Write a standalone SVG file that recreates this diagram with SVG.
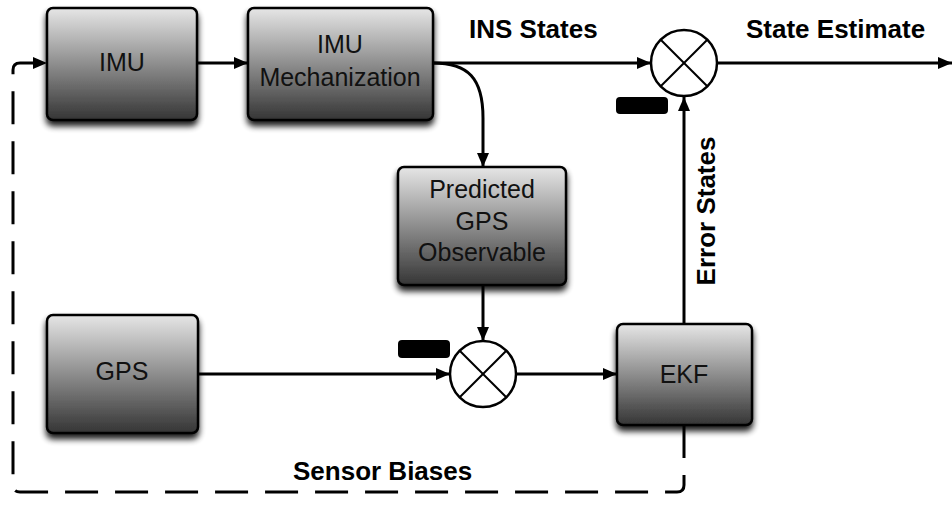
<svg xmlns="http://www.w3.org/2000/svg" width="952" height="522" viewBox="0 0 952 522">
<defs>
<linearGradient id="g" x1="0" y1="0" x2="0" y2="1">
<stop offset="0" stop-color="#e6e6e6"/>
<stop offset="1" stop-color="#353535"/>
</linearGradient>
<filter id="sh" x="-20%" y="-20%" width="140%" height="150%">
<feGaussianBlur in="SourceAlpha" stdDeviation="3"/>
<feOffset dx="0" dy="5" result="b"/>
<feComponentTransfer><feFuncA type="linear" slope="0.9"/></feComponentTransfer>
<feMerge><feMergeNode/><feMergeNode in="SourceGraphic"/></feMerge>
</filter>
<marker id="ah" markerWidth="14" markerHeight="12" refX="14" refY="6" orient="auto" markerUnits="userSpaceOnUse">
<path d="M0,0 L14,6 L0,12 Z" fill="#000"/>
</marker>
</defs>
<style>
.box{fill:url(#g);stroke:#000;stroke-width:2.5;filter:url(#sh)}
.lbl{font-family:"Liberation Sans",Arial,sans-serif;font-size:25px;fill:#111;text-anchor:middle}
.bold{font-family:"Liberation Sans",Arial,sans-serif;font-size:26px;font-weight:bold;fill:#000}
.c{fill:none;stroke:#000;stroke-width:3}
.a{marker-end:url(#ah)}
.sum{fill:#fff;stroke:#000;stroke-width:2.5}
.x{stroke:#000;stroke-width:2}
</style>
<rect width="952" height="522" fill="#fff"/>
<g id="connectors">
<line class="c a" x1="197" y1="63" x2="248" y2="63"/>
<line class="c a" x1="433" y1="63" x2="651" y2="63"/>
<path class="c a" d="M433,63 C468,63 483,78 483,118 L483,167"/>
<line class="c a" x1="717" y1="63" x2="952" y2="63"/>
<line class="c a" x1="483" y1="285" x2="483" y2="341"/>
<line class="c a" x1="198" y1="374" x2="450" y2="374"/>
<line class="c a" x1="516" y1="374" x2="617" y2="374"/>
<line class="c a" x1="684" y1="324" x2="684" y2="97"/>
<path class="c a" stroke-dasharray="33 17" d="M684,425 L684,485 Q684,492 677,492 L20,492 Q13,492 13,485 L13,70 Q13,63 20,63 L47,63"/>
</g>
<g id="imu"><rect class="box" x="47" y="8" width="150" height="112" rx="6"/><text class="lbl" x="122" y="71">IMU</text></g>
<g id="mech"><rect class="box" x="248" y="8" width="185" height="112" rx="6"/><text class="lbl" x="340" y="53">IMU</text><text class="lbl" x="340" y="86">Mechanization</text></g>
<g id="pred"><rect class="box" x="398" y="167" width="168" height="118" rx="6"/><text class="lbl" x="482" y="198">Predicted</text><text class="lbl" x="482" y="230">GPS</text><text class="lbl" x="482" y="261">Observable</text></g>
<g id="gps"><rect class="box" x="47" y="315" width="151" height="118" rx="6"/><text class="lbl" x="122" y="380">GPS</text></g>
<g id="ekf"><rect class="box" x="617" y="324" width="135" height="101" rx="6"/><text class="lbl" x="684" y="383">EKF</text></g>
<g id="sum1"><circle class="sum" cx="684" cy="63" r="33"/><line class="x" x1="660.7" y1="39.7" x2="707.3" y2="86.3"/><line class="x" x1="707.3" y1="39.7" x2="660.7" y2="86.3"/></g>
<g id="sum2"><circle class="sum" cx="483" cy="374" r="33"/><line class="x" x1="459.7" y1="350.7" x2="506.3" y2="397.3"/><line class="x" x1="506.3" y1="350.7" x2="459.7" y2="397.3"/></g>
<g id="minus1"><rect x="616" y="97" width="52" height="17" rx="4" fill="#000"/></g>
<g id="minus2"><rect x="398" y="340" width="52" height="18" rx="4" fill="#000"/></g>
<g id="labels">
<text class="bold" x="469" y="38">INS States</text>
<text class="bold" x="746" y="38">State Estimate</text>
<text class="bold" x="293" y="480">Sensor Biases</text>
<text class="bold" transform="translate(715,211) rotate(-90)" text-anchor="middle">Error States</text>
</g>
</svg>
